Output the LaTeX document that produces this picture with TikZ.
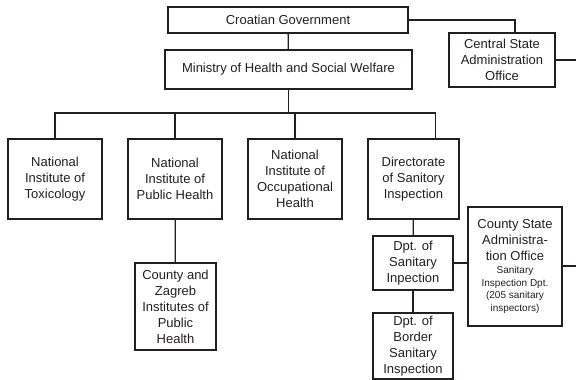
\documentclass[tikz,border=0pt]{standalone}
\usepackage{fontspec}
\setmainfont{Liberation Sans}
\definecolor{ink}{HTML}{231F20}
\newcommand{\subtext}{\fontsize{10}{12.5}\selectfont}
\begin{document}
\begin{tikzpicture}[x=1pt,y=-1pt,
        orgbox/.style={draw=ink,line width=1.3pt,text=ink,align=center,inner sep=0pt,
            font=\fontsize{13}{16}\selectfont},
        link/.style={draw=ink,line width=1.3pt}]
        \useasboundingbox (0,0) rectangle (576,380);

        % top level
        \node[orgbox,minimum width=240,minimum height=26] (gov) at (288,20) {Croatian Government};
        \node[orgbox,minimum width=247,minimum height=39] (min) at (288.5,69.5) {Ministry of Health and Social Welfare};
        \node[orgbox,minimum width=106,minimum height=54] (csao) at (502,60) {Central State\\Administration\\Office};

        % institutes
        \node[orgbox,minimum width=94,minimum height=80] (tox) at (55,179) {National\\Institute of\\Toxicology};
        \node[orgbox,minimum width=94,minimum height=80] (iph) at (175,179) {National\\Institute of\\Public Health};
        \node[orgbox,minimum width=94,minimum height=80] (ioh) at (295,179) {National\\Institute of\\Occupational\\Health};
        \node[orgbox,minimum width=91,minimum height=80] (dsi) at (413.5,179) {Directorate\\of Sanitory\\Inspection};

        % lower level
        \node[orgbox,minimum width=81,minimum height=87] (czi) at (175.5,306.5) {County and\\Zagreb\\Institutes of\\Public\\Health};
        \node[orgbox,minimum width=80,minimum height=54] (dsp) at (413,263) {Dpt. of\\Sanitary\\Inpection};
        \node[orgbox,minimum width=80,minimum height=66] (dbs) at (413,346) {Dpt. of\\Border\\Sanitary\\Inspection};
        \node[orgbox,minimum width=94,minimum height=119] (csa) at (515,266.5) {County State\\Administra-\\tion Office\\[-3pt]
            \subtext Sanitary\\[-3.5pt]\subtext Inspection Dpt.\\[-3.5pt]\subtext (205 sanitary\\[-3.5pt]\subtext inspectors)};

        % free ends at the right border
        \coordinate (edgeA) at (576,60);
        \coordinate (edgeB) at (576,266);
        \coordinate (bus) at (0,113);

        % connectors
        \draw[link] (gov) -- (min);
        \draw[link] (gov.east) -| ([xshift=13pt]csao.north);
        \draw[link] (csao.east) -- (edgeA);
        \draw[link] (min.south) -- (min.south |- bus);
        \draw[link] (tox.north) -- (tox.north |- bus) -- ([xshift=22pt]dsi.north |- bus) -- ([xshift=22pt]dsi.north);
        \foreach \n in {iph,ioh} {
            \draw[link] (\n.north) -- (\n.north |- bus);
        }
        \draw[link] (iph) -- (czi);
        \draw[link] (dsi) -- (dsp);
        \draw[link] (dsp) -- (dbs);
        \draw[link] (dsp.east) -- (dsp.east -| csa.west);
        \draw[link] (csa.east |- edgeB) -- (edgeB);
    \end{tikzpicture}
\end{document}
